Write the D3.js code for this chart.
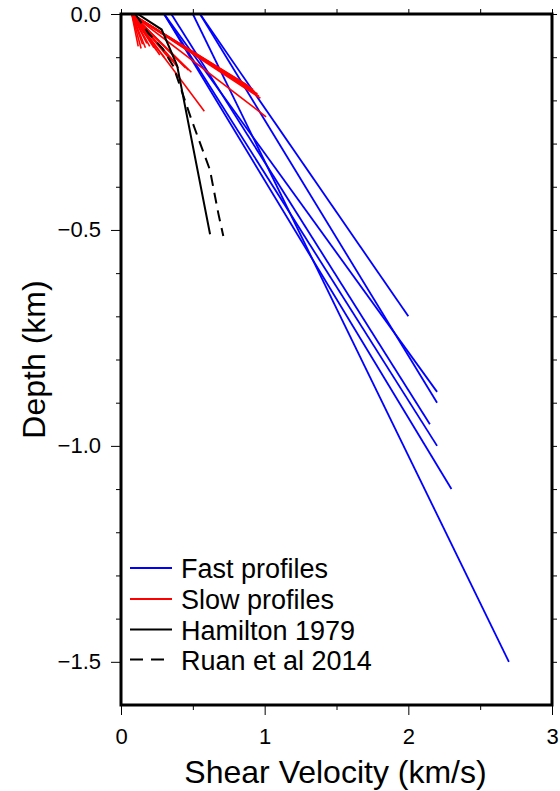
<!DOCTYPE html>
<html><head><meta charset="utf-8">
<script src="https://cdn.jsdelivr.net/npm/d3@7"></script>
<style>body{margin:0;background:#fff}</style>
</head><body>
<svg id="c" width="560" height="791"></svg>
<script>
// ---- data ----
const xTickValues = [0, 1, 2, 3];
const xTickLabels = ["0", "1", "2", "3"];
const yTickValues = [0, -0.5, -1.0, -1.5];
const yTickLabels = ["0.0", "\u22120.5", "\u22121.0", "\u22121.5"];

// Fast profiles: surface velocity -> bottom velocity at bottom depth
const fastTopV      = [0.55, 0.30, 0.55, 0.35, 0.30, 0.30, 0.50];
const fastBottomV   = [2.00, 2.20, 2.20, 2.15, 2.20, 2.30, 2.70];
const fastBottomZ   = [-0.70, -0.875, -0.90, -0.95, -1.00, -1.10, -1.50];

// Slow profiles: from surface velocity to end point
const slowTopV    = [0.075, 0.075, 0.075, 0.075, 0.075, 0.075, 0.075, 0.075, 0.075, 0.075, 0.075, 0.075, 0.075, 0.075, 0.075, 0.075, 0.075, 0.075, 0.075, 0.075, 0.075, 0.075, 0.075, 0.075, 0.075, 0.075];
const slowBottomV = [0.12, 0.14, 0.15, 0.17, 0.18, 0.20, 0.21, 0.23, 0.25, 0.27, 0.30, 0.34, 0.37, 0.40, 0.45, 0.47, 0.49, 0.58, 0.88, 0.90, 0.92, 0.93, 0.95, 0.96, 0.97, 1.01];
const slowBottomZ = [-0.075, -0.08, -0.070, -0.078, -0.068, -0.075, -0.065, -0.078, -0.085, -0.095, -0.10, -0.105, -0.11, -0.125, -0.125, -0.13, -0.135, -0.225, -0.165, -0.170, -0.175, -0.18, -0.185, -0.19, -0.195, -0.238];

// Hamilton 1979
const hamiltonV = [0.116, 0.283, 0.391, 0.62];
const hamiltonZ = [0, -0.036, -0.12, -0.51];

// Ruan et al 2014
const ruanV = [0.10, 0.19, 0.29, 0.364, 0.491, 0.619, 0.677, 0.712];
const ruanZ = [0, -0.044, -0.08, -0.121, -0.245, -0.361, -0.461, -0.514];

const legendLabels = ["Fast profiles", "Slow profiles", "Hamilton 1979", "Ruan et al 2014"];

// ---- layout ----
const L = 121, R = 552, T = 14, B = 705;
const font = "'Liberation Sans', Arial, Helvetica, sans-serif";
const svg = d3.select("#c");
const x = d3.scaleLinear().domain([0, 3]).range([L, R]);
const y = d3.scaleLinear().domain([-1.6, 0]).range([B, T]);

svg.append("defs").append("clipPath").attr("id", "clip")
  .append("rect").attr("x", L).attr("y", T).attr("width", R - L).attr("height", B - T);

const plot = svg.append("g").attr("clip-path", "url(#clip)");
const line = d3.line().x(d => x(d[0])).y(d => y(d[1]));

// fast
fastTopV.forEach((v, i) => {
  plot.append("path").attr("d", line([[v, 0], [fastBottomV[i], fastBottomZ[i]]]))
    .attr("stroke", "#0000ff").attr("stroke-width", 1.8).attr("fill", "none");
});
// slow
slowBottomV.forEach((v, i) => {
  plot.append("path").attr("d", line([[slowTopV[i], 0], [v, slowBottomZ[i]]]))
    .attr("stroke", "#ff0000").attr("stroke-width", 1.6).attr("fill", "none");
});
// hamilton
plot.append("path").attr("d", line(hamiltonV.map((v, i) => [v, hamiltonZ[i]])))
  .attr("stroke", "#000").attr("stroke-width", 2).attr("fill", "none");
// ruan
plot.append("path").attr("d", line(ruanV.map((v, i) => [v, ruanZ[i]])))
  .attr("stroke", "#000").attr("stroke-width", 2).attr("fill", "none")
  .attr("stroke-dasharray", "11,7");

// ---- axes ----
const gx = svg.append("g").attr("transform", `translate(0,${B})`)
  .call(d3.axisBottom(x).tickValues(xTickValues).tickFormat((d, i) => xTickLabels[i]).tickSize(10).tickPadding(13));
const gxm = svg.append("g").attr("transform", `translate(0,${B})`)
  .call(d3.axisBottom(x).tickValues(d3.range(0.5, 3, 1)).tickFormat("").tickSize(5));
const gxt = svg.append("g").attr("transform", `translate(0,${T})`)
  .call(d3.axisTop(x).tickValues(d3.range(0, 3.01, 0.5)).tickFormat("").tickSize(5));
const gy = svg.append("g").attr("transform", `translate(${L},0)`)
  .call(d3.axisLeft(y).tickValues(yTickValues).tickFormat((d, i) => yTickLabels[i]).tickSize(10).tickPadding(10));
const minorY = d3.range(1, 16).map(k => -k / 10).filter(v => Math.abs(v * 2 - Math.round(v * 2)) > 1e-6);
const gym = svg.append("g").attr("transform", `translate(${L},0)`)
  .call(d3.axisLeft(y).tickValues(minorY).tickFormat("").tickSize(5));
const gyr = svg.append("g").attr("transform", `translate(${R},0)`)
  .call(d3.axisRight(y).tickValues(d3.range(0, 16).map(k => -k / 10)).tickFormat("").tickSize(5));

[gx, gxm, gxt, gy, gym, gyr].forEach(g => {
  g.select(".domain").remove();
  g.selectAll(".tick line").attr("stroke", "#000").attr("stroke-width", 1);
  g.selectAll(".tick text").attr("font-family", font).attr("font-size", 22).attr("fill", "#000");
});

// frame
svg.append("rect").attr("x", L).attr("y", T).attr("width", R - L).attr("height", B - T)
  .attr("fill", "none").attr("stroke", "#000").attr("stroke-width", 3);

// axis titles
svg.append("text").attr("x", (L + R) / 2 - 1).attr("y", 783).attr("text-anchor", "middle")
  .attr("font-family", font).attr("font-size", 32).text("Shear Velocity (km/s)");
svg.append("text").attr("transform", `translate(45,${(T + B) / 2}) rotate(-90)`).attr("text-anchor", "middle")
  .attr("font-family", font).attr("font-size", 32).text("Depth (km)");

// legend
const legColors = ["#0000ff", "#ff0000", "#000", "#000"];
const legDash = [null, null, null, "13,8"];
const legY = [568, 599, 629.5, 659.5];
legendLabels.forEach((t, i) => {
  svg.append("line").attr("x1", 130).attr("x2", 172).attr("y1", legY[i]).attr("y2", legY[i])
    .attr("stroke", legColors[i]).attr("stroke-width", i < 2 ? 1.8 : 2).attr("stroke-dasharray", legDash[i]);
  svg.append("text").attr("x", 181).attr("y", legY[i] + 10).attr("font-family", font)
    .attr("font-size", 27).text(t);
});
</script>
</body></html>
